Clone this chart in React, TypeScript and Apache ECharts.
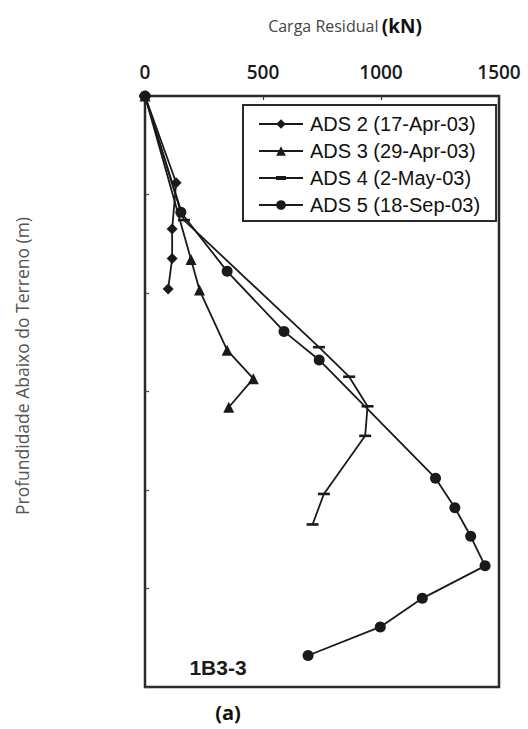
import { useEffect, useRef } from "react";
import * as echarts from "echarts";

// Residual load (kN) against depth below ground (m) for each ADS reading
const loadTicks = [0, 500, 1000, 1500];

const ads2Name = "ADS 2 (17-Apr-03)";
const ads2Load = [0, 132, 115, 115, 98];
const ads2Depth = [0, 4.4, 6.75, 8.25, 9.8];

const ads3Name = "ADS 3 (29-Apr-03)";
const ads3Load = [0, 195, 231, 348, 459, 355];
const ads3Depth = [0, 8.3, 9.85, 12.9, 14.35, 15.8];

const ads4Name = "ADS 4 (2-May-03)";
const ads4Load = [0, 165, 737, 865, 943, 933, 758, 710];
const ads4Depth = [0, 6.3, 12.75, 14.25, 15.75, 17.25, 20.2, 21.75];

const ads5Name = "ADS 5 (18-Sep-03)";
const ads5Load = [0, 152, 348, 589, 738, 1231, 1313, 1380, 1441, 1175, 997, 691];
const ads5Depth = [0, 5.9, 8.9, 11.95, 13.4, 19.4, 20.9, 22.35, 23.85, 25.5, 26.95, 28.4];

const pileLabel = "1B3-3";
const panelLabel = "(a)";

const pairs = (xs: number[], ys: number[]) => xs.map((x, i) => [x, ys[i]]);

const INK = "#1a1a1a";
// flat bar marker used for the ADS 4 readings
const DASH = "path://M0,0L12,0L12,2.6L0,2.6Z";
// legend key for ADS 4: a line with a small bar in its middle
const DASH_KEY = "path://M0,1.1L44,1.1L44,2.9L0,2.9Z M17,0L27,0L27,4L17,4Z";

function lineSeries(name: string, data: number[][], symbol: string, symbolSize: number, keepAspect = false) {
  return {
    name,
    type: "line",
    data,
    symbol,
    symbolSize,
    symbolKeepAspect: keepAspect,
    showSymbol: true,
    lineStyle: { color: INK, width: 1.8 },
    itemStyle: { color: INK, borderWidth: 0 },
    emphasis: { disabled: true },
  };
}

export default function App() {
  const ref = useRef<HTMLDivElement>(null);

  useEffect(() => {
    if (!ref.current) return;
    const chart = echarts.init(ref.current, null, { renderer: "svg" });
    chart.setOption({
      animation: false,
      backgroundColor: "#ffffff",
      grid: {
        left: 145,
        top: 96,
        right: 29,
        bottom: 42,
        show: true,
        borderColor: "#2a2a2a",
        borderWidth: 2.5,
        backgroundColor: "transparent",
      },
      xAxis: {
        type: "value",
        position: "top",
        min: loadTicks[0],
        max: loadTicks[loadTicks.length - 1],
        interval: 500,
        axisLine: { show: false },
        axisTick: { show: true, inside: true, length: 4, lineStyle: { color: "#333", width: 1.2 } },
        splitLine: { show: false },
        axisLabel: {
          margin: 15,
          fontFamily: "Open Sans",
          fontWeight: 600,
          fontSize: 19,
          color: "#1a1a1a",
          formatter: (v: number) => (loadTicks.includes(v) ? String(v) : ""),
        },
      },
      yAxis: {
        type: "value",
        inverse: true,
        min: 0,
        max: 30,
        interval: 5,
        axisLine: { show: false },
        axisTick: { show: true, inside: true, length: 4, lineStyle: { color: "#444", width: 1.2 } },
        axisLabel: { show: false },
        splitLine: { show: false },
      },
      legend: {
        orient: "vertical",
        left: 243,
        top: 105,
        padding: [9, 16, 6, 15],
        itemGap: 7,
        itemWidth: 44,
        itemHeight: 12,
        borderColor: "#2a2a2a",
        borderWidth: 2,
        backgroundColor: "#ffffff",
        selectedMode: false,
        textStyle: {
          fontFamily: "Liberation Sans",
          fontSize: 20,
          color: "#111",
          padding: [0, 0, 0, 2],
        },
        data: [ads2Name, ads3Name, { name: ads4Name, icon: DASH_KEY }, ads5Name],
      },
      series: [
        lineSeries(ads2Name, pairs(ads2Load, ads2Depth), "diamond", 11),
        lineSeries(ads3Name, pairs(ads3Load, ads3Depth), "triangle", 11),
        lineSeries(ads4Name, pairs(ads4Load, ads4Depth), DASH, 12, true),
        lineSeries(ads5Name, pairs(ads5Load, ads5Depth), "circle", 11),
      ],
      graphic: [
        {
          type: "text",
          x: 345,
          y: 26,
          style: {
            text: "{a|Carga Residual} {b|(kN)}",
            align: "center",
            verticalAlign: "middle",
            rich: {
              a: { fontFamily: "Open Sans", fontSize: 16, fill: "#444" },
              b: { fontFamily: "Open Sans", fontSize: 19, fontWeight: "bold", fill: "#111" },
            },
          },
        },
        {
          type: "text",
          x: 22,
          y: 366,
          rotation: Math.PI / 2,
          style: {
            text: "Profundidade Abaixo do Terreno (m)",
            align: "center",
            verticalAlign: "middle",
            fontFamily: "Open Sans",
            fontSize: 17.5,
            fill: "#555",
          },
        },
        {
          type: "text",
          x: 218,
          y: 667,
          style: {
            text: pileLabel,
            align: "center",
            verticalAlign: "middle",
            fontFamily: "Liberation Sans",
            fontWeight: "bold",
            fontSize: 21,
            fill: "#1a1a1a",
          },
        },
        {
          type: "text",
          x: 228,
          y: 712,
          style: {
            text: panelLabel,
            align: "center",
            verticalAlign: "middle",
            fontFamily: "Open Sans",
            fontWeight: "bold",
            fontSize: 20,
            fill: "#111",
          },
        },
      ],
    });
    return () => chart.dispose();
  }, []);

  return (
    <div
      ref={ref}
      style={{ position: "absolute", left: 0, top: 0, width: 528, height: 729 }}
    />
  );
}
